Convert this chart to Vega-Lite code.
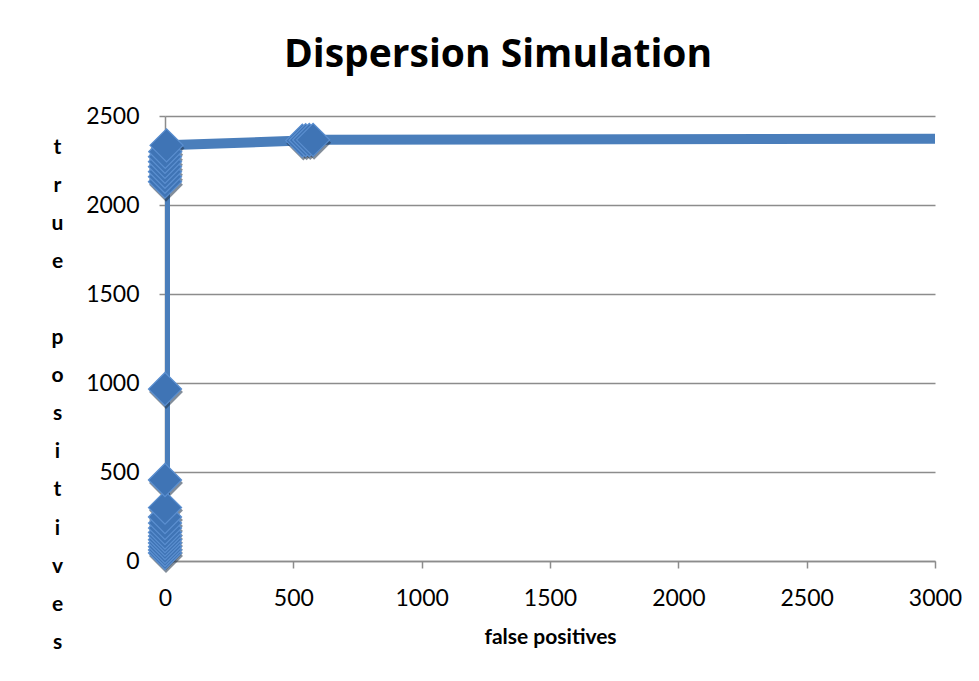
{
  "$schema": "https://vega.github.io/schema/vega-lite/v6.json",
  "width": 770,
  "height": 445,
  "autosize": "none",
  "padding": {"left": 165, "top": 116, "right": 44, "bottom": 120},
  "background": "white",
  "config": {
    "view": {"stroke": null},
    "font": "Lato"
  },
  "title": {
    "text": "Dispersion Simulation",
    "font": "Open Sans",
    "fontSize": 39,
    "fontWeight": "bold",
    "color": "#000000",
    "anchor": "middle",
    "dx": -52,
    "baseline": "alphabetic",
    "offset": -1
  },
  "data": {
    "values": [
      {"seq": 1, "fp": 0, "tp": 45},
      {"seq": 2, "fp": 0, "tp": 62},
      {"seq": 3, "fp": 0, "tp": 80},
      {"seq": 4, "fp": 0, "tp": 101},
      {"seq": 5, "fp": 0, "tp": 120},
      {"seq": 6, "fp": 0, "tp": 140},
      {"seq": 7, "fp": 0, "tp": 160},
      {"seq": 8, "fp": 0, "tp": 185},
      {"seq": 9, "fp": 0, "tp": 213},
      {"seq": 10, "fp": 0, "tp": 247},
      {"seq": 11, "fp": 0, "tp": 300},
      {"seq": 12, "fp": 0, "tp": 455},
      {"seq": 13, "fp": 0, "tp": 966},
      {"seq": 14, "fp": 0, "tp": 2131},
      {"seq": 15, "fp": 0, "tp": 2159},
      {"seq": 16, "fp": 0, "tp": 2187},
      {"seq": 17, "fp": 0, "tp": 2215},
      {"seq": 18, "fp": 0, "tp": 2243},
      {"seq": 19, "fp": 0, "tp": 2271},
      {"seq": 20, "fp": 1, "tp": 2299},
      {"seq": 21, "fp": 6, "tp": 2335},
      {"seq": 22, "fp": 535, "tp": 2362},
      {"seq": 23, "fp": 548, "tp": 2364},
      {"seq": 24, "fp": 562, "tp": 2365},
      {"seq": 25, "fp": 577, "tp": 2366},
      {"seq": 26, "fp": 3600, "tp": 2374}
    ]
  },
  "encoding": {
    "x": {
      "field": "fp",
      "type": "quantitative",
      "scale": {"domain": [0, 3000], "nice": false, "zero": false},
      "axis": {
        "title": "false positives",
        "values": [0, 500, 1000, 1500, 2000, 2500, 3000],
        "format": "d",
        "grid": false,
        "domainColor": "#8c8c8c",
        "domainWidth": 1.5,
        "tickColor": "#8c8c8c",
        "tickWidth": 1.5,
        "tickSize": 7,
        "labelPadding": 19,
        "labelFont": "Lato",
        "labelFontSize": 23,
        "labelColor": "#000000",
        "labelFlush": false,
        "titleFont": "Lato",
        "titleFontSize": 21,
        "titleFontWeight": "bold",
        "titleColor": "#000000",
        "titlePadding": 16
      }
    },
    "y": {
      "field": "tp",
      "type": "quantitative",
      "scale": {"domain": [0, 2500], "nice": false},
      "axis": {
        "title": ["t", "r", "u", "e", "\u2800", "p", "o", "s", "i", "t", "i", "v", "e", "s"],
        "values": [0, 500, 1000, 1500, 2000, 2500],
        "format": "d",
        "grid": true,
        "gridColor": "#8c8c8c",
        "gridWidth": 1.5,
        "domainColor": "#8c8c8c",
        "domainWidth": 1.5,
        "tickColor": "#8c8c8c",
        "tickWidth": 1.5,
        "tickSize": 6,
        "labelPadding": 20,
        "labelFont": "Lato",
        "labelFontSize": 23,
        "labelColor": "#000000",
        "labelFlush": false,
        "titleFont": "Lato",
        "titleFontSize": 21,
        "titleFontWeight": "bold",
        "titleColor": "#000000",
        "titleAngle": 0,
        "titleAlign": "center",
        "titleBaseline": "alphabetic",
        "titleLineHeight": 38.1,
        "titleX": -108,
        "titleY": 37
      }
    },
    "order": {"field": "seq", "type": "quantitative"}
  },
  "layer": [
    {
      "mark": {"type": "line", "clip": true, "color": "#4A7EBB", "strokeWidth": 10, "strokeJoin": "round"}
    },
    {
      "transform": [{"filter": "datum.fp <= 3000"}],
      "mark": {"type": "point", "shape": "diamond", "filled": true, "size": 1150, "fill": "#1c2f47", "opacity": 0.55, "yOffset": 3, "xOffset": 1}
    },
    {
      "transform": [{"filter": "datum.fp <= 3000"}],
      "mark": {"type": "point", "shape": "diamond", "filled": true, "size": 1100, "fill": "#3F74B5", "stroke": "#5B8FD0", "strokeWidth": 1.2, "opacity": 1}
    }
  ]
}
